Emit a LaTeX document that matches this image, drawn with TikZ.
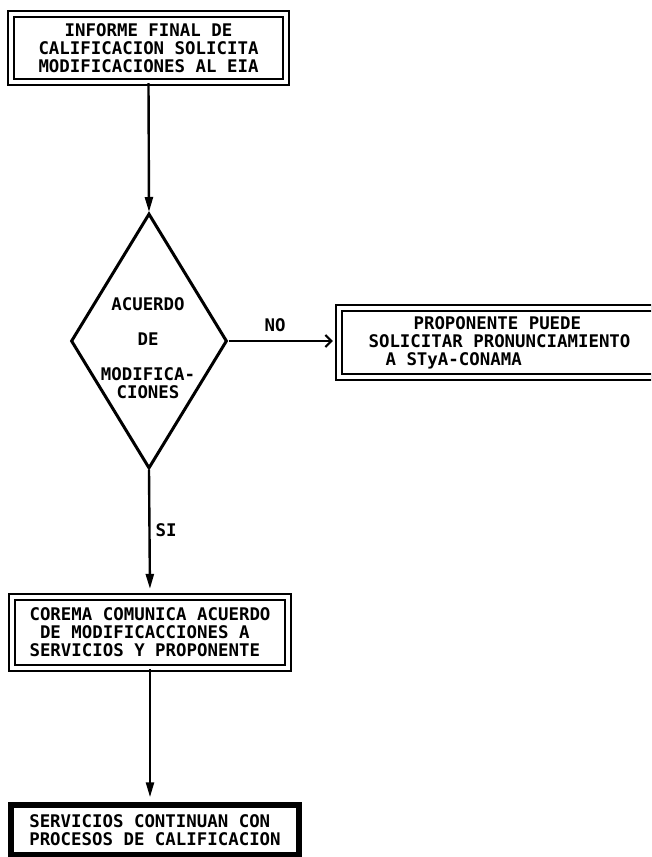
\documentclass[tikz,border=0pt]{standalone}
\usepackage{fontspec}
\newfontfamily\cadfont{DejaVu Sans Mono}
\usetikzlibrary{shapes.geometric,arrows.meta}
\begin{document}
\begin{tikzpicture}[x=1pt,y=-1pt,
  txt/.style={font=\cadfont\bfseries\fontsize{17.4}{18}\selectfont, inner sep=0pt},
  dbox/.style={draw, double, line width=2.2pt, double distance=3.6pt, rectangle, inner sep=0pt, txt},
  flow/.style={line width=2.4pt, -{Triangle[length=15pt,width=8pt]}},
  noflow/.style={line width=2.2pt, -{Straight Barb[length=6pt,width=12pt]}},
  decision/.style={draw, diamond, line width=3pt, inner sep=0pt},
  endbox/.style={draw, rectangle, line width=5.5pt, inner sep=0pt, txt}
]
\useasboundingbox (0,0) rectangle (651,857);
\clip (0,0) rectangle (651,857);

\node[dbox, minimum width=275pt, minimum height=68pt, align=center] (b1) at (148.5,48)
  {INFORME FINAL DE\\CALIFICACION SOLICITA\\MODIFICACIONES AL EIA};

\node[decision, minimum width=156pt, minimum height=255pt] (dia) at (149,341) {};
\node[txt, align=center] (dtext) at (148,348.5)
  {ACUERDO\\[17pt]DE\\[17pt]MODIFICA-\\CIONES};

\node[dbox, minimum width=321pt, minimum height=69pt, align=left] (b2) at (499.5,342.5)
  {\hspace*{45pt}PROPONENTE PUEDE\\SOLICITAR PRONUNCIAMIENTO\\\hspace*{17pt}A STyA-CONAMA};

\node[dbox, minimum width=275.5pt, minimum height=71pt, align=left] (b3) at (150,632.5)
  {COREMA COMUNICA ACUERDO\\\phantom{D}DE MODIFICACCIONES A\\SERVICIOS Y PROPONENTE};

\node[endbox, minimum width=288pt, minimum height=50pt, align=left] (b4) at (155,830)
  {SERVICIOS CONTINUAN CON\\PROCESOS DE CALIFICACION};

\node[txt] (no) at (275,325) {NO};
\node[txt] (si) at (166,530) {SI};

\draw[flow] (b1.south) -- (dia.north);
\draw[noflow, shorten >=5pt] (dia.east) -- (dia.east -| b2.west);
\draw[flow, shorten >=7pt] (dia.south) -- (b3.north);
\draw[flow, shorten >=5pt] (b3.south) -- (b3.south |- b4.north);
\end{tikzpicture}
\end{document}
